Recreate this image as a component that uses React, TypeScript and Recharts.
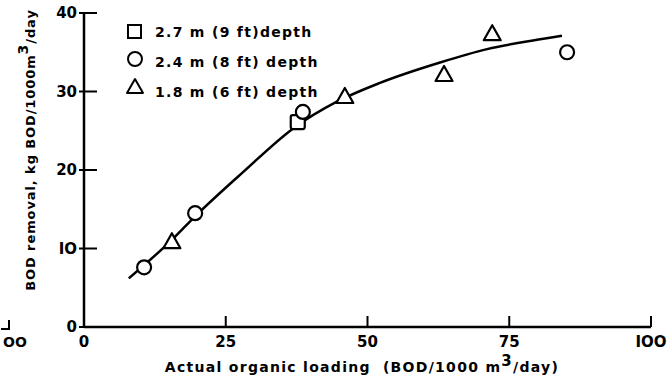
import React from "react";
import { ComposedChart, XAxis, YAxis, Line, Scatter, Legend } from "recharts";

// Data
const squareLoading = [37.7];
const squareRemoval = [26.1];
const circleLoading = [10.6, 19.6, 38.6, 85.2];
const circleRemoval = [7.6, 14.5, 27.4, 35.0];
const triangleLoading = [15.5, 46.0, 63.5, 72.0];
const triangleRemoval = [10.8, 29.3, 32.1, 37.3];
const curveLoading = [7.9, 15.5, 19.6, 28, 36.9, 44.6, 52.2, 62.8, 71.1, 79.2, 84.3];
const curveRemoval = [6.2, 11.1, 14.1, 19.7, 25.3, 28.7, 31.1, 33.7, 35.4, 36.5, 37.1];
const xTicks = [0, 25, 50, 75, 100];
const yTicks = [0, 10, 20, 30, 40];
const xTickLabels = ["0", "25", "50", "75", "IOO"];
const yTickLabels = ["0", "IO", "20", "30", "40"];
const legendLabels = ["2.7 m (9 ft)depth", "2.4 m (8 ft) depth", "1.8 m (6 ft) depth"];

const toPts = (xs: number[], ys: number[]) => xs.map((x, i) => ({ x, y: ys[i] }));
const squares = toPts(squareLoading, squareRemoval);
const circles = toPts(circleLoading, circleRemoval);
const triangles = toPts(triangleLoading, triangleRemoval);
const curve = toPts(curveLoading, curveRemoval);

const FONT = "'DejaVu Sans', sans-serif";
const INK = "#000";

const SquareShape = (p: any) => (
  <rect x={p.cx - 7} y={p.cy - 7} width={14} height={14} rx={2} fill="#fff" stroke={INK} strokeWidth={2.2} />
);
const CircleShape = (p: any) => (
  <circle cx={p.cx} cy={p.cy} r={7} fill="#fff" stroke={INK} strokeWidth={2.2} />
);
const TriangleShape = (p: any) => (
  <path
    d={`M${p.cx},${p.cy - 9} L${p.cx + 8.5},${p.cy + 6} L${p.cx - 8.5},${p.cy + 6} Z`}
    fill="#fff"
    stroke={INK}
    strokeWidth={2.2}
    strokeLinejoin="round"
  />
);

const XTick = (p: any) => {
  const idx = xTicks.indexOf(p.payload.value);
  return (
    <g>
      <line x1={p.x} y1={p.y} x2={p.x} y2={p.y - 11} stroke={INK} strokeWidth={2} />
      <text x={p.x} y={p.y + 20} textAnchor="middle" fontFamily={FONT} fontWeight="bold" fontSize={15} fill={INK}>
        {xTickLabels[idx]}
      </text>
    </g>
  );
};

const YTick = (p: any) => {
  const idx = yTicks.indexOf(p.payload.value);
  return (
    <g>
      <line x1={p.x - 5} y1={p.y} x2={p.x + 13} y2={p.y} stroke={INK} strokeWidth={2} />
      <text x={p.x - 7} y={p.y + 5} textAnchor="end" fontFamily={FONT} fontWeight="bold" fontSize={15} fill={INK}>
        {yTickLabels[idx]}
      </text>
    </g>
  );
};

const LegendContent = () => (
  <svg width={240} height={90}>
    <rect x={5} y={5} width={13} height={13} fill="#fff" stroke={INK} strokeWidth={2} />
    <circle cx={12} cy={39} r={7} fill="#fff" stroke={INK} strokeWidth={2} />
    <path d="M12,59 L20,73 L4,73 Z" fill="#fff" stroke={INK} strokeWidth={2} strokeLinejoin="round" />
    {legendLabels.map((t, i) => (
      <text key={t} x={32} y={17 + i * 30} fontFamily={FONT} fontWeight="bold" fontSize={14} letterSpacing={1.3} fill={INK}>
        {t}
      </text>
    ))}
  </svg>
);

export default function App() {
  return (
    <div style={{ position: "absolute", left: 0, top: 0, width: 672, height: 379, background: "#fff" }}>
      <ComposedChart width={672} height={379} margin={{ top: 13, right: 21, bottom: 0, left: 0 }}>
        <XAxis
          type="number"
          dataKey="x"
          domain={[0, 100]}
          ticks={xTicks}
          height={52}
          tickSize={0}
          tickMargin={0}
          tick={XTick}
          axisLine={{ stroke: INK, strokeWidth: 2.5 }}
          tickLine={false}
          allowDataOverflow
          label={{
            content: () => (
              <text x={362} y={372} textAnchor="middle" fontFamily={FONT} fontWeight="bold" fontSize={14} letterSpacing={1.3} fill={INK}>
                Actual organic loading
                <tspan dx={12}>(BOD/1000 m</tspan>
                <tspan dy={-6} fontSize={15}>3</tspan>
                <tspan dy={6}>/day)</tspan>
              </text>
            ),
          }}
        />
        <YAxis
          type="number"
          dataKey="y"
          domain={[0, 40]}
          ticks={yTicks}
          width={84}
          tickSize={0}
          tickMargin={0}
          tick={YTick}
          axisLine={{ stroke: INK, strokeWidth: 2.5 }}
          tickLine={false}
          allowDataOverflow
          label={{
            content: () => (
              <text
                x={0}
                y={0}
                transform="translate(35,150) rotate(-90)"
                textAnchor="middle"
                fontFamily={FONT}
                fontWeight="bold"
                fontSize={13}
                letterSpacing={0.9}
                fill={INK}
              >
                BOD removal, kg BOD/1000m
                <tspan dy={-7} fontSize={14}>3</tspan>
                <tspan dy={7}>/day</tspan>
              </text>
            ),
          }}
        />
        <Legend
          layout="vertical"
          align="center"
          verticalAlign="middle"
          content={LegendContent}
          wrapperStyle={{ position: "absolute", left: 123, top: 20, width: 240, height: 90 }}
        />
        <Line
          data={curve}
          dataKey="y"
          type="monotone"
          stroke={INK}
          strokeWidth={2.5}
          dot={false}
          activeDot={false}
          isAnimationActive={false}
          legendType="none"
        />
        <Scatter data={squares} dataKey="y" shape={SquareShape} isAnimationActive={false} legendType="none" />
        <Scatter data={circles} dataKey="y" shape={CircleShape} isAnimationActive={false} legendType="none" />
        <Scatter data={triangles} dataKey="y" shape={TriangleShape} isAnimationActive={false} legendType="none" />
      </ComposedChart>
      <svg width={40} height={40} style={{ position: "absolute", left: 0, top: 316 }}>
        <path d="M1,13 L9,13 L9,4" fill="none" stroke={INK} strokeWidth={2} />
        <text x={15} y={31} textAnchor="middle" fontFamily={FONT} fontWeight="bold" fontSize={14} fill={INK}>
          OO
        </text>
      </svg>
    </div>
  );
}
